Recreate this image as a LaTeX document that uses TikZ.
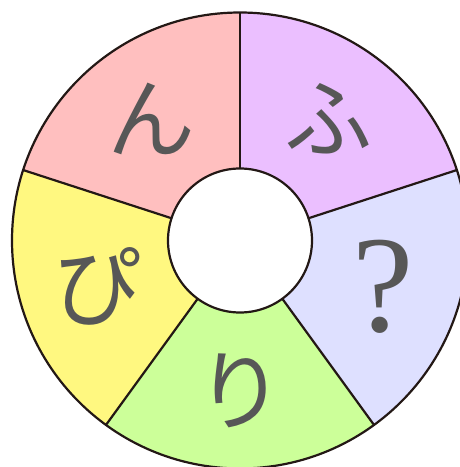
\documentclass[tikz,border=0pt]{standalone}
\usepackage{fontspec}
\usetikzlibrary{calc}
\newfontfamily\jpfont{Noto Sans CJK JP}
\newfontfamily\serifq{Liberation Serif}
\definecolor{cpink}{HTML}{FFBFBF}
\definecolor{cpurple}{HTML}{EBBFFF}
\definecolor{cblue}{HTML}{DEE0FF}
\definecolor{cgreen}{HTML}{CCFF99}
\definecolor{cyellow}{HTML}{FFF880}
\definecolor{cline}{HTML}{231815}
\definecolor{ctext}{HTML}{575757}
\begin{document}
\begin{tikzpicture}[x=1pt,y=1pt,
  seg/.style={draw=cline,line width=2.2pt,line join=round},
  glyph/.style={text=ctext,inner sep=0pt,font=\jpfont\fontsize{88}{88}\selectfont}]
\useasboundingbox (0,0) rectangle (460,467);
\clip (0,0) rectangle (460,467);
\coordinate (c) at (240,226.5);
\def\R{228}\def\r{72}
\foreach \a/\col in {18/cpurple,-54/cblue,-126/cgreen,-198/cyellow,-270/cpink}{
  \fill[\col] ($(c)+(\a:\r)$) arc[start angle=\a,end angle=\a+72,radius=\r]
    -- ($(c)+(\a+72:\R)$) arc[start angle=\a+72,end angle=\a,radius=\R] -- cycle;
}
\foreach \a in {18,90,162,234,306}{
  \draw[seg] ($(c)+(\a:\r)$) -- ($(c)+(\a:\R)$);
}
\draw[seg] (c) circle[radius=\R];
\draw[seg,fill=white] (c) circle[radius=\r];
\node[glyph] (n) at ($(c)+(126:150)$) {ん};
\node[glyph] (f) at ($(c)+(54:150)$) {ふ};
\node[glyph,font=\serifq\fontsize{138}{138}\selectfont] (q) at ($(c)+(-18:150)$) {?};
\node[glyph] (ri) at ($(c)+(-90:150)$) {り};
\node[glyph] (p) at ($(c)+(198:150)$) {ぴ};
\end{tikzpicture}
\end{document}
